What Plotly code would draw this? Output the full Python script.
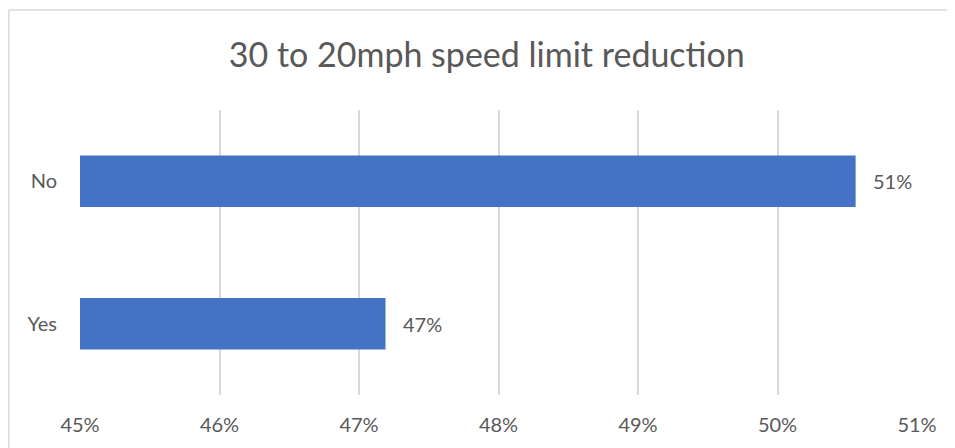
import plotly.graph_objects as go

# Daten
antworten = ["Yes", "No"]
anteile = [47.19, 50.56]
beschriftungen = ["47%", "51%"]
achsen_werte = [45, 46, 47, 48, 49, 50, 51]
achsen_texte = ["45%", "46%", "47%", "48%", "49%", "50%", "51%"]
basis = 45

text_farbe = "#595959"
schrift = "Lato, 'Open Sans', sans-serif"

# Balken starten bei 45 %, deshalb Länge = Anteil - Basis
fig = go.Figure(
    go.Bar(
        y=antworten,
        x=[a - basis for a in anteile],
        base=basis,
        orientation="h",
        marker=dict(color="#4472C4", line=dict(width=0)),
        width=0.36,
        hoverinfo="skip",
    )
)

# Datenbeschriftungen rechts neben den Balken
for antwort, anteil, text in zip(antworten, anteile, beschriftungen):
    fig.add_annotation(
        x=anteil, y=antwort, text=text, showarrow=False,
        xanchor="left", xshift=15,
        font=dict(size=20, color=text_farbe, family=schrift),
    )

# Die Seite hat 8px Rand, daher ist die Figur etwas kleiner
fig.update_layout(
    width=947,
    height=440,
    margin=dict(l=72, r=38, t=102, b=53),
    paper_bgcolor="white",
    plot_bgcolor="white",
    showlegend=False,
    title=dict(
        text="30 to 20mph speed limit reduction",
        x=0.486,
        xref="paper",
        xanchor="center",
        y=0.893,
        yanchor="middle",
        font=dict(size=34, color=text_farbe, family=schrift),
    ),
    xaxis=dict(
        range=[45, 51],
        tickvals=achsen_werte,
        ticktext=achsen_texte,
        showgrid=True,
        gridcolor="#d9d9d9",
        gridwidth=1.5,
        zeroline=False,
        showline=False,
        ticks="",
        ticklabelstandoff=16,
        tickfont=dict(size=20, color=text_farbe, family=schrift),
    ),
    yaxis=dict(
        showgrid=False,
        zeroline=False,
        showline=False,
        ticks="",
        ticklabelstandoff=22,
        tickfont=dict(size=20, color=text_farbe, family=schrift),
    ),
    shapes=[
        # Rahmen des Diagrammbereichs (oben und links sichtbar)
        dict(type="line", xref="paper", yref="paper",
             x0=-71.2 / 837, x1=900 / 837,
             y0=385 / 285, y1=385 / 285,
             line=dict(color="#d9d9d9", width=1.5)),
        dict(type="line", xref="paper", yref="paper",
             x0=-71.2 / 837, x1=-71.2 / 837,
             y0=385 / 285, y1=-70 / 285,
             line=dict(color="#d9d9d9", width=1.5)),
    ],
)

fig.write_html("out.html")
